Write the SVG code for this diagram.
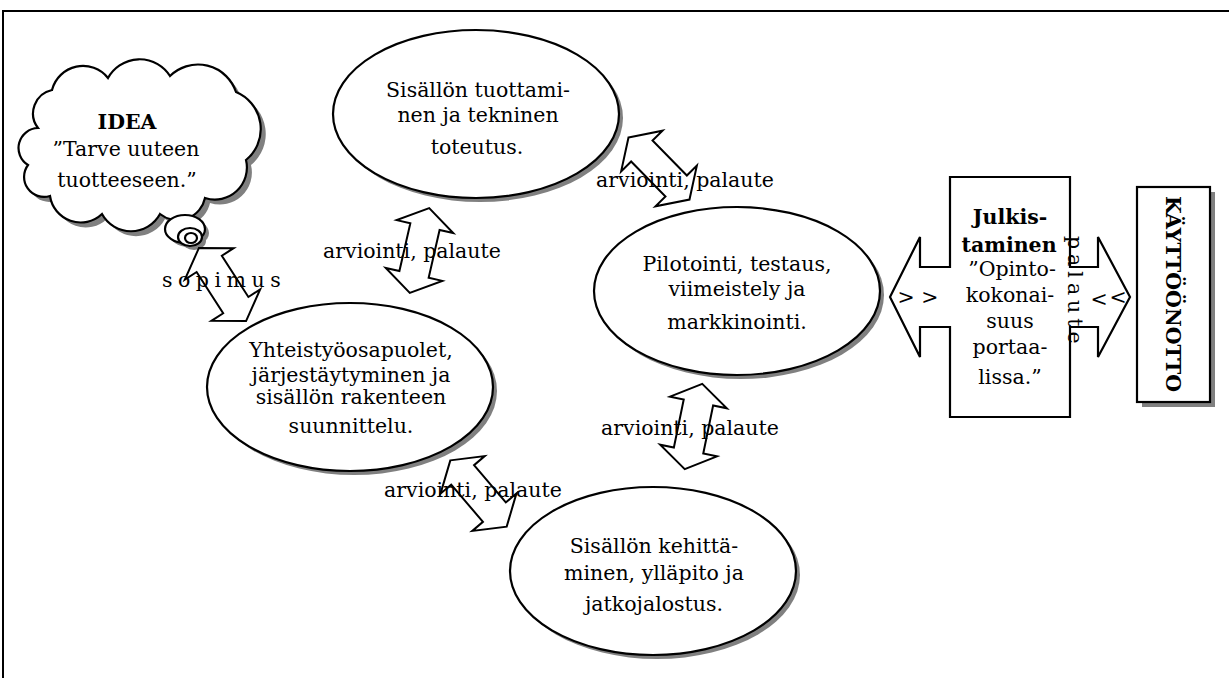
<svg xmlns="http://www.w3.org/2000/svg" xmlns:xlink="http://www.w3.org/1999/xlink" width="1229" height="678" viewBox="0 0 1229 678">
  <style>
    .frame { fill: none; stroke: #000; stroke-width: 2; }
    .shape { fill: #fff; stroke: #000; stroke-width: 2.2; }
    .shadow { fill: #808080; stroke: none; }
    .arrow { fill: #fff; stroke: #000; stroke-width: 2; stroke-linejoin: miter; }
    .t { font-family: "DejaVu Serif", "Liberation Serif", serif; font-size: 20.5px; fill: #000; text-anchor: middle; }
    .b { font-weight: bold; }
    .spaced { letter-spacing: 5.5px; text-anchor: start; }
  </style>
  <defs>
    <!-- two-headed block arrow, axis along y, centred on the origin -->
    <path id="dbl" d="M0,-43.5 L29,-24.5 L15,-24.5 L15,24.5 L29,24.5 L0,43.5 L-29,24.5 L-15,24.5 L-15,-24.5 L-29,-24.5 Z"/>
    <ellipse id="oval" cx="0" cy="0" rx="143" ry="84"/>
    <path id="cloud" d="M38,128 A24,24 0 0 1 52,90 A32,32 0 0 1 108,78 A36,36 0 0 1 170,76 A40,40 0 0 1 236,92 A40,40 0 0 1 246,160 A32,32 0 0 1 205,198 A28,28 0 0 1 160,214 A33,33 0 0 1 102,214 A31,31 0 0 1 50,196 A20,20 0 0 1 28,165 A20,20 0 0 1 38,128 Z"/>
  </defs>

  <rect width="1229" height="678" fill="#fff"/>
  <!-- page frame -->
  <path class="frame" d="M3,678 L3,11 L1231,11"/>

  <!-- idea cloud with thought bubbles -->
  <g id="idea">
    <use xlink:href="#cloud" class="shadow" transform="translate(5,5)"/>
    <ellipse class="shadow" cx="189" cy="233" rx="20" ry="14"/>
    <ellipse class="shadow" cx="194" cy="241" rx="12" ry="9"/>
    <use xlink:href="#cloud" class="shape"/>
    <ellipse class="shape" cx="185" cy="229" rx="20" ry="14"/>
    <ellipse class="shape" cx="190" cy="237" rx="12" ry="9"/>
    <ellipse class="shape" cx="191" cy="238" rx="6" ry="5"/>
    <text class="t b" x="127" y="129">IDEA</text>
    <text class="t" x="126" y="156">”Tarve uuteen</text>
    <text class="t" x="127" y="187">tuotteeseen.”</text>
  </g>

  <g id="tuottaminen">
    <use xlink:href="#oval" class="shadow" transform="translate(480,118)"/>
    <use xlink:href="#oval" class="shape" transform="translate(476,114)"/>
    <text class="t" x="478" y="97">Sisällön tuottami-</text>
    <text class="t" x="478" y="122">nen ja tekninen</text>
    <text class="t" x="477" y="154">toteutus.</text>
  </g>

  <g id="pilotointi">
    <use xlink:href="#oval" class="shadow" transform="translate(741,295)"/>
    <use xlink:href="#oval" class="shape" transform="translate(737,291)"/>
    <text class="t" x="737" y="271">Pilotointi, testaus,</text>
    <text class="t" x="737" y="296">viimeistely ja</text>
    <text class="t" x="737" y="329">markkinointi.</text>
  </g>

  <g id="yhteistyo">
    <use xlink:href="#oval" class="shadow" transform="translate(354,391)"/>
    <use xlink:href="#oval" class="shape" transform="translate(350,387)"/>
    <text class="t" x="351" y="357">Yhteistyöosapuolet,</text>
    <text class="t" x="351" y="382">järjestäytyminen ja</text>
    <text class="t" x="351" y="404">sisällön rakenteen</text>
    <text class="t" x="351" y="433">suunnittelu.</text>
  </g>

  <g id="kehittaminen">
    <use xlink:href="#oval" class="shadow" transform="translate(657,575)"/>
    <use xlink:href="#oval" class="shape" transform="translate(653,571)"/>
    <text class="t" x="654" y="553">Sisällön kehittä-</text>
    <text class="t" x="654" y="580">minen, ylläpito ja</text>
    <text class="t" x="654" y="611">jatkojalostus.</text>
  </g>

  <g id="julkistaminen">
    <path class="shape" d="M950,177 L1070,177 L1070,267 L1098,267 L1098,237 L1130,297 L1098,357 L1098,327 L1070,327 L1070,417 L950,417 L950,327 L920,327 L920,357 L890,297 L920,237 L920,267 L950,267 Z"/>
    <text class="t b" x="1010" y="224">Julkis-</text>
    <text class="t b" x="1009" y="252">taminen</text>
    <text class="t" x="1012" y="276">”Opinto-</text>
    <text class="t" x="1010" y="302">kokonai-</text>
    <text class="t" x="1010" y="328">suus</text>
    <text class="t" x="1010" y="354">portaa-</text>
    <text class="t" x="1010" y="384">lissa.”</text>
    <text class="t" x="918" y="304">&gt; &gt;</text>
    <text class="t" x="1099" y="306">&lt;</text>
    <text class="t" x="1118" y="304">&lt;</text>
  </g>

  <g id="kayttoonotto">
    <rect class="shadow" x="1142" y="192" width="73" height="215"/>
    <rect class="shape" x="1137" y="187" width="73" height="215"/>
    <text class="t b" transform="translate(1166,294) rotate(90)">KÄYTTÖÖNOTTO</text>
  </g>

  <!-- feedback arrows between the phases -->
  <g id="connectors">
    <use xlink:href="#dbl" class="arrow" transform="translate(222.5,284.5) rotate(-32.8)"/>
    <use xlink:href="#dbl" class="arrow" transform="translate(419.5,250.5) rotate(12.9)"/>
    <use xlink:href="#dbl" class="arrow" transform="translate(659,168.5) rotate(-44.5)"/>
    <use xlink:href="#dbl" class="arrow" transform="translate(693.5,426.5) rotate(11.6)"/>
    <use xlink:href="#dbl" class="arrow" transform="translate(478.5,493.5) rotate(-40.4)"/>
    <text class="t spaced" x="162" y="287">sopimus</text>
    <text class="t" x="412" y="258">arviointi, palaute</text>
    <text class="t" x="685" y="187">arviointi, palaute</text>
    <text class="t" x="690" y="435">arviointi, palaute</text>
    <text class="t" x="473" y="497">arviointi, palaute</text>
    <text class="t spaced" transform="translate(1068,236) rotate(90)" style="letter-spacing:5px">palaute</text>
  </g>
</svg>
